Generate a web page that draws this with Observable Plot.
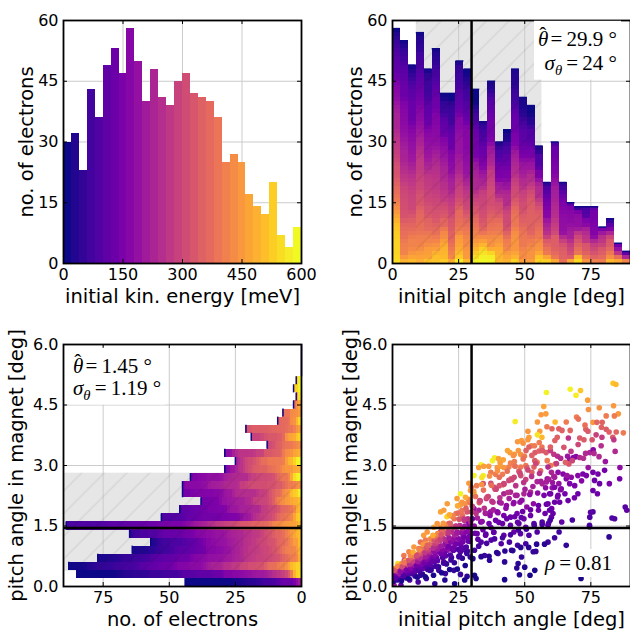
<!DOCTYPE html>
<html><head><meta charset="utf-8">
<script src="https://cdn.jsdelivr.net/npm/d3@7"></script>
<script src="https://cdn.jsdelivr.net/npm/@observablehq/plot@0.6"></script>
<style>
body{margin:0;background:#fff;}
#wrap{position:relative;width:630px;height:634px;overflow:hidden;background:#fff;}
#wrap svg{position:absolute;overflow:visible;}
</style></head><body><div id="wrap"></div>
<script>
// ---------- data ----------
const energyBinStart = [0,20,40,60,80,100,120,140,160,180,200,220,240,260,280,300,320,340,360,380,400,420,440,460,480,500,520,540,560,580];
const energyBinWidth = 20;
const energyCounts = [30,32,23,43,36,49,53,47,58,50,40,48,41,39,45,47,42,41,40,36,25,27,25,17,14,12,20,7,4,9];

const pitchBinStart = [0,3,6,9,12,15,18,21,24,27,30,33,36,39,42,45,48,51,54,57,60,63,66,69,72,75,78,81,84,87];
const pitchBinWidth = 3;
const pitchCounts = [58,55,49,57,48,53,42,42,50,48,43,35,45,30,33,48,41,39,29,20,30,20,15,14,14,14,9,11,5,3];

const magnetBinStart = [0,0.2,0.4,0.6,0.8,1.0,1.2,1.4,1.6,1.8,2.0,2.2,2.4,2.6,2.8,3.0,3.2,3.4,3.6,3.8,4.0,4.2,4.4,4.6,4.8,5.0,5.2,5.4,5.6,5.8];
const magnetBinWidth = 0.2;
const magnetCounts = [44,85,88,77,64,57,65,89,53,46,38,45,45,42,29,25,29,13,19,21,9,7,3,2,3,2,0,0,0,0];

const energyTicks = [0,150,300,450,600];
const countTicks = [0,15,30,45,60];
const pitchTicks = [0,25,50,75];
const electronTicks = [75,50,25,0];
const magnetTicks = [0,1.5,3.0,4.5,6.0];

const initPitchMean = 29.9, initPitchSigma = 24, initPitchBand = [9.0, 56.5];
const magnetPitchMean = 1.45, magnetPitchSigma = 1.19, magnetPitchBand = [0.38, 2.81];
const correlation = 0.81;

// scatter: [initial pitch angle (deg), pitch angle in magnet (deg), initial energy (meV)]
const scatterPoints = [
[83.4,5.04,520],[84.5,5.01,500],[67.2,4.89,580],[71.1,4.86,520],[69.4,4.74,570],[58.2,4.81,580],[73.8,4.62,460],[57.2,4.46,470],
[56.2,4.26,450],[58.0,4.28,460],[46.4,4.09,570],[54.8,4.08,450],[61.5,4.08,500],[65.7,4.08,400],[69.6,4.20,400],[70.3,4.15,380],
[74.1,4.39,440],[78.2,4.43,440],[83.6,4.48,450],[85.4,4.28,450],[75.8,4.07,450],[77.3,4.07,360],[79.3,4.07,350],[80.8,4.23,400],
[83.9,4.23,400],[51.2,3.85,450],[51.6,3.70,460],[51.2,3.64,450],[55.7,3.85,460],[56.5,3.70,500],[54.8,3.76,560],[58.4,3.96,400],
[60.3,3.91,360],[62.9,3.91,350],[64.1,3.87,350],[67.2,3.87,360],[73.1,3.90,350],[73.9,3.85,340],[77.0,3.76,290],[80.8,3.90,340],
[81.9,3.83,350],[84.6,3.83,360],[87.3,3.81,400],[83.3,3.70,340],[79.2,3.70,280],[72.4,3.64,340],[62.3,3.70,350],[61.4,3.62,350],
[66.5,3.68,260],[70.8,3.68,340],[75.5,3.64,330],[83.7,3.64,270],[47.3,3.59,450],[48.8,3.62,460],[49.4,3.55,440],[44.4,3.32,460],
[43.5,3.37,470],[52.5,3.49,420],[53.7,3.49,400],[55.5,3.57,400],[56.5,3.46,390],[51.6,3.46,350],[50.5,3.37,350],[53.9,3.32,340],
[55.4,3.36,350],[56.7,3.37,340],[58.1,3.32,340],[59.7,3.37,280],[61.0,3.28,270],[59.7,3.46,350],[62.4,3.23,250],[63.6,3.18,240],
[66.2,3.23,200],[67.0,3.14,190],[68.4,3.20,170],[69.4,3.22,170],[70.8,3.20,240],[72.2,3.18,250],[73.0,3.30,240],[74.6,3.32,230],
[75.9,3.39,170],[78.9,3.49,250],[78.1,3.22,240],[47.6,3.37,450],[46.1,3.28,460],[48.5,3.27,440],[49.9,3.23,400],[52.7,3.25,350],
[41.9,3.14,470],[40.7,3.07,460],[44.6,3.06,410],[46.1,3.10,400],[37.8,3.12,580],[38.6,3.19,570],[40.1,3.17,470],[33.5,3.02,580],
[30.8,2.75,580],[34.3,2.75,570],[33.8,2.70,560],[30.9,2.30,530],[32.6,2.95,460],[34.5,2.98,460],[36.4,2.98,450],[39.6,2.95,450],
[40.8,2.98,460],[42.1,2.95,450],[37.2,2.83,400],[39.0,2.78,400],[41.6,2.78,400],[44.0,2.96,410],[46.0,3.00,400],[48.5,2.96,400],
[50.4,3.00,400],[54.7,3.08,400],[58.5,3.12,400],[59.8,3.00,390],[61.6,3.04,400],[53.5,2.96,350],[56.0,2.87,350],[52.7,2.83,350],
[58.5,2.67,200],[61.0,2.73,230],[62.9,2.55,190],[60.4,2.45,190],[54.7,2.60,230],[56.6,2.55,230],[46.0,2.71,300],[48.5,2.75,310],
[50.4,2.65,290],[44.0,2.63,300],[42.1,2.55,300],[34.3,2.55,320],[37.2,2.56,310],[38.5,2.46,310],[40.4,2.50,320],[31.8,2.50,400],
[29.8,2.46,400],[42.1,2.30,230],[44.6,2.34,230],[46.5,2.26,230],[49.7,2.30,230],[52.2,2.34,230],[57.3,2.26,150],[59.8,2.30,150],
[62.4,2.22,140],[33.0,2.13,280],[35.5,2.18,280],[38.0,2.09,270],[40.5,2.09,200],[43.1,2.01,180],[45.7,2.05,200],[48.2,2.09,190],
[50.8,1.97,180],[53.3,2.05,180],[55.2,1.89,140],[57.7,1.81,130],[60.2,1.93,130],[30.8,1.93,200],[32.7,1.89,220],[35.2,1.81,200],
[37.1,1.85,200],[39.6,1.85,140],[42.1,1.76,140],[44.6,1.72,130],[47.1,1.81,140],[49.7,1.68,130],[52.2,1.76,130],[30.2,1.68,130],
[33.4,1.60,140],[36.5,1.56,130],[39.0,1.64,130],[41.6,1.56,120],[44.6,1.52,110],[47.8,1.56,110],[50.4,1.47,100],[53.5,1.56,100],
[56.6,1.60,90],[32.0,1.31,130],[35.2,1.27,120],[38.3,1.35,130],[42.1,1.27,110],[45.9,1.35,120],[48.4,1.31,100],[51.6,1.27,90],
[54.7,1.35,90],[33.5,1.10,90],[37.3,1.15,100],[41.1,1.06,90],[44.2,1.10,80],[47.3,1.02,70],[50.4,1.06,70],[31.0,0.90,70],
[34.8,0.77,60],[39.9,0.82,60],[45.0,0.90,60],[48.8,0.73,50],[53.2,0.86,50],[36.7,0.65,40],[42.4,0.61,40],[47.5,0.57,40],
[50.0,0.48,30],[31.0,0.28,20],[31.6,0.20,20],[42.4,0.17,20],[52.0,0.28,20],[53.8,0.40,20],
[25.7,2.30,580],[28.9,2.56,450],[29.5,2.38,450],[24.4,2.18,460],[26.3,2.09,450],[27.5,2.05,440],[20.7,2.05,460],[18.2,1.85,470],
[19.4,1.89,460],[22.1,1.76,400],[24.0,1.81,400],[26.5,1.76,380],[16.9,1.56,450],[15.6,1.47,470],[18.2,1.47,440],[21.3,1.56,350],
[23.2,1.47,340],[28.1,1.64,150],[28.7,1.52,150],[13.1,1.35,450],[11.8,1.27,460],[14.4,1.19,520],[12.5,1.15,400],[10.6,1.10,380],
[18.2,1.35,250],[20.7,1.31,230],[24.4,1.35,200],[26.9,1.31,180],[29.5,1.31,180],[16.9,1.19,250],[20.0,1.15,220],[23.2,1.19,200],
[26.3,1.10,180],[28.8,1.15,160],[8.1,0.98,450],[10.0,0.94,400],[6.2,0.86,420],[4.3,0.77,400],[13.1,0.94,260],[15.6,0.90,230],
[18.2,0.98,200],[20.7,0.90,180],[23.2,0.94,120],[25.7,0.86,100],[27.6,0.90,90],[2.0,0.57,550],[2.6,0.45,480],[2.0,0.32,500],
[4.5,0.65,300],[7.0,0.57,280],[9.5,0.61,250],[12.0,0.65,180],[15.1,0.69,150],[16.9,0.65,140],[19.4,0.61,110],[5.2,0.40,200],
[8.4,0.36,180],[11.6,0.45,130],[14.7,0.48,110],[17.5,0.40,80],[20.0,0.32,60],[23.2,0.40,60],[25.7,0.30,60],[28.2,0.25,40],
[3.3,0.20,150],[6.5,0.16,120],[9.7,0.11,80],[12.8,0.20,60],[16.0,0.07,40],[19.8,0.16,30],[23.5,0.07,20],[27.3,0.16,20],
[0.6,0.03,200],[3.2,0.03,120],[0.5,0.28,560],
[66.7,3.04,330],[65.4,3.08,350],[68.0,3.12,300],[58.8,2.96,240],[60.1,2.83,230],[61.3,2.71,220],[58.2,2.59,220],[62.6,2.83,180],
[64.5,2.79,170],[65.7,2.67,170],[67.6,2.71,180],[70.1,2.75,170],[72.0,2.79,150],[73.3,2.75,150],[75.8,2.83,140],[77.7,2.79,140],
[76.4,2.63,130],[78.3,2.55,130],[80.2,2.88,140],[85.9,2.67,140],[88.0,1.97,100],[88.6,1.89,110],[61.3,2.46,160],[63.8,2.42,150],
[67.0,2.55,150],[68.9,2.50,150],[70.1,2.30,130],[75.8,2.38,130],[59.4,2.30,140],[62.6,2.26,140],[65.2,2.30,140],[66.4,2.13,130],
[63.2,2.09,130],[61.3,2.09,130],[58.8,2.05,130],[59.4,1.89,120],[60.7,1.81,120],[60.1,1.72,110],[64.0,1.60,110],[74.6,1.72,90],
[75.8,1.85,90],[84.0,1.68,90],[58.8,1.52,90],[74.5,1.52,80],[58.8,1.10,60],[61.3,1.21,60],[65.7,1.02,50],[81.9,1.23,50],
[71.3,0.20,20],[48.0,0.29,30],[47.0,0.46,40],[54.2,0.87,50],[59.0,1.57,100],[74.5,1.48,70],[83.0,1.70,90],[74.9,1.84,100],
[60.5,2.58,200],[62.0,3.05,280],[63.5,2.40,170],[64.8,3.45,330],[66.0,2.75,200],[67.5,3.35,270],[68.8,2.20,140],[70.2,3.52,300],
[71.5,2.62,170],[72.8,4.00,380],[74.0,2.95,200],[76.2,3.30,240],[77.5,2.30,130],[79.0,3.95,350],[80.5,3.10,200],[82.0,2.55,150],
[84.2,3.35,240],[86.0,2.95,180],[63.0,1.35,70],[68.0,1.65,80],
// dense part of the cloud, 0–30 deg
[0.3,0.13,25],[1.8,0.16,50],[0.9,0.23,90],[2.5,0.24,120],[1.2,0.29,155],[2.1,0.30,185],[0.6,0.35,230],[2.8,0.36,270],
[1.5,0.42,310],[0.2,0.39,350],[2.3,0.47,390],[1.0,0.45,450],[2.6,0.53,540],[1.4,0.19,70],[0.5,0.26,140],[2.9,0.33,210],
[1.7,0.38,250],[0.8,0.41,330],[2.0,0.50,420],[1.1,0.21,105],
[3.4,0.14,25],[4.7,0.26,70],[5.5,0.29,105],[3.9,0.34,140],[4.4,0.35,170],[5.8,0.47,210],[3.2,0.40,250],[5.1,0.52,290],
[4.0,0.48,330],[5.6,0.58,370],[3.6,0.57,420],[4.9,0.63,480],[5.3,0.21,50],[4.2,0.28,90],[3.0,0.37,185],[5.9,0.34,120],
[4.6,0.44,230],[3.7,0.49,310],[5.2,0.40,155],[4.5,0.59,390],
[6.2,0.19,25],[8.5,0.26,50],[7.3,0.32,70],[6.7,0.33,90],[8.1,0.37,105],[7.7,0.43,120],[6.4,0.40,140],[8.8,0.51,155],
[7.0,0.46,170],[6.9,0.53,185],[8.3,0.54,210],[7.5,0.59,230],[6.5,0.55,250],[8.6,0.66,270],[7.9,0.62,290],[6.1,0.65,330],
[7.2,0.72,350],[8.4,0.75,390],[6.8,0.77,420],[7.8,0.85,480],[8.9,0.41,120],
[9.4,0.23,25],[11.3,0.31,50],[10.2,0.39,70],[9.8,0.40,90],[11.7,0.52,105],[10.6,0.48,120],[9.1,0.52,140],[11.0,0.55,155],
[10.0,0.61,170],[11.9,0.65,185],[9.6,0.62,210],[10.9,0.73,230],[10.4,0.70,250],[9.3,0.74,270],[11.5,0.80,290],[10.7,0.86,330],
[9.9,0.81,350],[11.2,0.95,390],[10.1,0.91,420],[11.6,1.04,450],[9.2,0.77,310],[10.5,0.28,45],
[12.4,0.24,25],[14.6,0.41,50],[13.3,0.42,70],[12.9,0.53,90],[14.2,0.54,105],[13.7,0.61,120],[12.2,0.59,140],[14.8,0.72,155],
[13.0,0.67,170],[14.0,0.78,185],[12.6,0.74,210],[13.9,0.85,230],[14.5,0.88,250],[12.3,0.84,270],[13.5,0.91,290],[14.9,1.03,310],
[12.8,0.96,330],[13.8,1.04,370],[14.4,1.17,420],[12.7,1.06,450],[13.2,1.02,350],[14.1,0.40,60],
[15.5,0.28,25],[17.4,0.49,50],[16.3,0.50,70],[15.9,0.62,90],[17.0,0.64,105],[16.6,0.72,120],[15.2,0.69,140],[17.7,0.86,155],
[16.1,0.79,170],[15.7,0.87,185],[17.2,0.93,210],[16.8,1.00,230],[15.4,0.95,250],[17.9,1.13,270],[16.4,1.06,290],[15.8,1.14,330],
[17.5,1.21,350],[16.0,1.23,390],[17.1,1.31,420],[15.3,1.27,480],[16.9,1.12,310],[15.1,0.62,120],
[18.6,0.34,25],[20.4,0.56,50],[19.3,0.58,70],[18.9,0.72,90],[20.1,0.76,105],[19.6,0.83,120],[18.3,0.81,140],[20.7,0.98,155],
[19.0,0.91,170],[19.9,1.05,185],[18.5,1.00,210],[20.5,1.13,230],[19.4,1.18,250],[18.1,1.17,290],[20.9,1.37,310],[19.7,1.33,350],
[18.8,1.40,370],[20.2,1.52,420],[19.2,1.57,450],[20.6,1.73,540],[18.4,1.28,330],
[21.6,0.42,25],[23.4,0.59,50],[22.3,0.72,70],[21.9,0.78,90],[23.1,0.90,105],[22.7,0.91,120],[21.3,0.99,140],[23.7,1.05,155],
[22.0,1.10,170],[22.9,1.15,185],[21.4,1.21,210],[23.5,1.28,230],[22.5,1.35,250],[21.1,1.33,270],[23.9,1.50,290],[22.2,1.48,330],
[21.8,1.57,350],[23.3,1.68,390],[22.6,1.74,420],[21.5,1.78,480],[23.0,0.96,140],[22.1,0.66,60],
[24.5,0.43,25],[26.4,0.70,50],[25.3,0.76,70],[24.9,0.92,90],[26.1,0.97,105],[25.6,1.06,120],[24.2,1.06,140],[26.7,1.22,155],
[25.0,1.18,170],[25.9,1.33,185],[24.4,1.32,210],[26.5,1.44,230],[25.5,1.51,250],[24.1,1.49,270],[26.9,1.68,290],[25.2,1.67,330],
[24.8,1.82,370],[26.2,1.88,390],[25.7,2.02,450],[24.6,2.00,480],[26.6,1.11,140],[25.1,0.74,60],
[27.5,0.52,25],[29.4,0.73,50],[28.3,0.88,70],[27.9,0.98,90],[29.1,1.12,105],[28.6,1.13,120],[27.2,1.22,140],[29.7,1.30,155],
[28.0,1.35,170],[28.9,1.43,185],[27.4,1.50,210],[29.5,1.60,230],[28.5,1.68,250],[27.1,1.64,270],[29.9,1.85,290],[28.2,1.85,330],
[27.8,1.94,350],[29.3,2.08,390],[28.7,2.16,420],[27.6,2.21,480],[29.0,1.23,140],[28.1,0.82,60],
// 30–60 deg
[30.4,0.69,35],[32.6,1.00,80],[31.2,1.32,130],[30.9,1.50,180],[32.1,1.70,220],[31.6,1.81,260],[30.2,1.99,300],[32.8,2.08,340],
[31.4,2.23,380],[30.7,2.36,440],[32.3,1.17,110],
[33.5,0.74,35],[35.6,1.07,80],[34.2,1.41,130],[33.9,1.61,180],[35.1,1.82,220],[34.7,1.94,260],[33.2,2.12,300],[35.8,2.22,340],
[34.4,2.39,380],[33.7,2.53,440],[35.3,1.30,110],
[36.5,0.75,35],[38.6,1.18,80],[37.2,1.46,130],[36.9,1.76,180],[38.1,1.90,220],[37.6,2.11,260],[36.2,2.23,300],[38.8,2.41,340],
[37.4,2.51,380],[36.7,2.74,440],[38.3,1.34,110],
[39.4,0.84,35],[41.6,1.21,80],[40.2,1.59,130],[39.9,1.83,180],[41.1,2.07,220],[40.6,2.20,260],[39.2,2.41,300],[41.8,2.52,340],
[40.4,2.71,380],[39.7,2.87,440],
[42.5,0.88,35],[44.6,1.28,80],[43.2,1.68,130],[42.9,1.94,180],[44.1,2.18,220],[43.6,2.33,260],[42.2,2.54,300],[44.8,2.67,340],
[43.4,2.86,380],
[45.5,0.89,35],[47.6,1.40,80],[46.2,1.73,130],[45.9,2.08,180],[47.1,2.26,220],[46.6,2.50,260],[45.2,2.65,300],[47.8,2.86,340],
[46.4,2.98,380],[45.7,3.25,440],[47.3,1.59,110],
[48.5,0.97,35],[50.6,1.42,80],[49.2,1.86,130],[48.9,2.14,180],[50.1,2.41,220],[49.6,2.58,260],[48.2,2.81,300],[50.8,2.95,340],
[49.4,3.16,380],[48.7,1.71,110],
[51.5,0.97,35],[53.6,1.52,80],[52.2,1.90,130],[51.9,2.28,180],[53.1,2.48,220],[52.6,2.73,260],[51.2,2.89,300],[53.8,3.12,340],
[54.5,1.05,35],[56.6,1.54,80],[55.2,2.01,130],[54.9,2.32,180],[56.1,2.61,220],[55.6,2.80,260],[54.2,3.05,300],
[57.5,1.05,35],[59.6,1.64,80],[58.2,2.04,130],[57.9,2.45,180],[59.1,2.66,220]
];

// ---------- derived tables ----------
const scatter = scatterPoints.map(([x, y, e]) => ({x, y, e}));
const energyRows = energyBinStart.map((s, i) => ({x1: s, x2: s + energyBinWidth, count: energyCounts[i], e: s + energyBinWidth / 2}));
const pitchRows = pitchBinStart.map((s, i) => ({x1: s, x2: s + pitchBinWidth, count: pitchCounts[i]}));
const magnetRows = magnetBinStart.map((s, i) => ({y1: s, y2: s + magnetBinWidth, count: magnetCounts[i]}));

// calibrate the colour-estimated energies of the scatter points against the energy histogram (rank → energy quantile)
const totalElectrons = d3.sum(energyCounts);
function energyAtQuantile(q) {
  let target = q * totalElectrons, cum = 0;
  for (let i = 0; i < energyCounts.length; i++) {
    if (cum + energyCounts[i] >= target) return energyBinStart[i] + energyBinWidth * (target - cum) / energyCounts[i];
    cum += energyCounts[i];
  }
  return energyBinStart[energyBinStart.length - 1] + energyBinWidth;
}
d3.sort(scatter, d => d.e).forEach((p, i, arr) => { p.ec = energyAtQuantile((i + 0.5) / arr.length); });

// calibrated energies of the electrons that fall in a bin (widening the window when few are known), high → low
function binEnergies(key, lo, hi, minN) {
  const w = hi - lo; let pad = 0, sel = [];
  while (true) {
    sel = scatter.filter(p => p[key] >= lo - pad && p[key] < hi + pad).map(p => p.ec);
    if (sel.length >= minN || pad > 40 * w) break;
    pad += w / 2;
  }
  return sel.sort(d3.descending);
}
const pitchCells = [];
pitchRows.forEach(r => {
  const es = binEnergies("x", r.x1, r.x2, 6);
  for (let k = 0; k < r.count; k++) pitchCells.push({x1: r.x1, x2: r.x2, y1: k, y2: k + 1, e: d3.quantileSorted(es, (k + 0.5) / r.count)});
});
const magnetCells = [];
magnetRows.forEach(r => {
  const es = binEnergies("y", r.y1, r.y2, 6);
  for (let k = 0; k < r.count; k++) magnetCells.push({c1: k, c2: k + 1, y1: r.y1, y2: r.y2, e: d3.quantileSorted(es, (k + 0.5) / r.count)});
});

// ---------- styling ----------
const FONT = "DejaVu Sans";
const SERIF = "Liberation Serif";
const W = 315, H = 317;
const LOWEST = d3.interpolatePlasma(0);
const GRID = "#cbcbcb";
const BAND = "#e6e6e6";
const colorScale = {type: "linear", scheme: "plasma", domain: [10, 590], clamp: true};
const fmt1 = d3.format(".1f");

function buildPanel(cfg) {
  const pw = W - cfg.ml - cfg.mr, ph = H - cfg.mt - cfg.mb;
  const svg = Plot.plot({
    width: W, height: H,
    marginTop: cfg.mt, marginRight: cfg.mr, marginBottom: cfg.mb, marginLeft: cfg.ml,
    style: {fontFamily: FONT, fontSize: "16px", background: "transparent", color: "black", overflow: "visible"},
    x: {domain: cfg.xDomain},
    y: {domain: cfg.yDomain},
    color: colorScale,
    marks: [
      ...(cfg.under || []),
      Plot.gridX(cfg.xTicks, {stroke: GRID, strokeOpacity: 1, strokeWidth: 1}),
      Plot.gridY(cfg.yTicks, {stroke: GRID, strokeOpacity: 1, strokeWidth: 1}),
      ...cfg.data,
      Plot.ruleX(cfg.xTicks, {stroke: "black", strokeWidth: 1, insetTop: ph - 4}),
      Plot.ruleX(cfg.xTicks, {stroke: "black", strokeWidth: 1, insetBottom: ph - 4}),
      Plot.ruleY(cfg.yTicks, {stroke: "black", strokeWidth: 1, insetRight: pw - 4}),
      Plot.ruleY(cfg.yTicks, {stroke: "black", strokeWidth: 1, insetLeft: pw - 4}),
      Plot.frame({stroke: "black", strokeWidth: 1.8}),
      Plot.axisX(cfg.xTicks, {tickSize: 0, tickPadding: 5, tickFormat: cfg.xFmt, label: null, fontSize: 16}),
      Plot.axisY(cfg.yTicks, {tickSize: 0, tickPadding: 5, tickFormat: cfg.yFmt, label: null, fontSize: 16}),
      Plot.text([cfg.xLabel], {text: d => d, frameAnchor: "bottom", dy: cfg.xLabelDy, fontSize: 19.5, textAnchor: "middle", lineAnchor: "middle"}),
      Plot.text([cfg.yLabel], {text: d => d, frameAnchor: "left", dx: cfg.yLabelDx, rotate: -90, fontSize: 19.5, textAnchor: "middle", lineAnchor: "middle"})
    ]
  });
  svg.style.left = cfg.left + "px";
  svg.style.top = cfg.top + "px";
  document.getElementById("wrap").appendChild(svg);
  return svg;
}

function addHatch(svg, id) {
  const defs = d3.select(svg).insert("defs", ":first-child");
  const p = defs.append("pattern").attr("id", id).attr("patternUnits", "userSpaceOnUse")
    .attr("width", 16).attr("height", 16).attr("patternTransform", "rotate(45)");
  p.append("line").attr("x1", 8).attr("y1", 0).attr("x2", 8).attr("y2", 16)
    .attr("stroke", "#000").attr("stroke-opacity", 0.1).attr("stroke-width", 1);
}

function annotate(svg, x, y, anchor, lines, lineGap, size) {
  const g = d3.select(svg).append("g");
  lines.forEach((parts, li) => {
    const t = g.append("text").attr("x", x).attr("y", y + li * lineGap).attr("text-anchor", anchor)
      .attr("font-family", SERIF).attr("font-size", size).attr("fill", "black");
    parts.forEach(([s, kind]) => {
      const ts = t.append("tspan").text(s);
      if (kind === "i") ts.attr("font-style", "italic");
      if (kind === "hat") ts.attr("dx", -size * 0.43).attr("dy", -size * 0.2);
      if (kind === "unhat") ts.attr("dy", size * 0.2);
      if (kind === "sub") ts.attr("font-style", "italic").attr("font-size", size * 0.7).attr("dy", size * 0.22);
      if (kind === "back") ts.attr("dy", -size * 0.22);
    });
  });
  const b = g.node().getBBox();
  g.insert("rect", ":first-child").attr("x", b.x - 4).attr("y", b.y - 2).attr("width", b.width + 8).attr("height", b.height + 4)
    .attr("fill", "white");
}

// ---------- top-left: energy histogram ----------
buildPanel({
  left: 0, top: 0, ml: 63, mr: 14, mt: 20, mb: 54,
  xDomain: [0, 600], yDomain: [0, 60], xTicks: energyTicks, yTicks: countTicks,
  xLabel: "initial kin. energy [meV]", yLabel: "no. of electrons", xLabelDy: 33, yLabelDx: -37,
  data: [Plot.rectY(energyRows, {x1: "x1", x2: "x2", y: "count", fill: "e", inset: 0, shapeRendering: "crispEdges"})]
});

// ---------- top-right: initial pitch angle, stacked by energy ----------
const tr = buildPanel({
  left: 315, top: 0, ml: 77, mr: 0, mt: 20, mb: 54,
  xDomain: [0, 90], yDomain: [0, 60], xTicks: pitchTicks, yTicks: countTicks,
  xLabel: "initial pitch angle [deg]", yLabel: "no. of electrons", xLabelDy: 33, yLabelDx: -37,
  under: [Plot.rect([initPitchBand], {x1: d => d[0], x2: d => d[1], fill: BAND})],
  data: [
    Plot.rect(pitchCells, {x1: "x1", x2: "x2", y1: "y1", y2: "y2", fill: "e", inset: 0, shapeRendering: "crispEdges"}),
    Plot.ruleY(pitchRows, {x1: "x1", x2: "x2", y: "count", stroke: LOWEST, strokeWidth: 1.5}),
    Plot.rect([initPitchBand], {x1: d => d[0], x2: d => d[1], fill: "url(#hatchTR)"}),
    Plot.ruleX([initPitchMean], {stroke: "black", strokeWidth: 2.5})
  ]
});
addHatch(tr, "hatchTR");
annotate(tr, 302, 46, "end", [
  [["θ", "i"], ["ˆ", "hat"], ["\u2009=\u2009" + initPitchMean + " °", "unhat"]],
  [["σ", "i"], ["θ", "sub"], ["\u2009=\u2009" + initPitchSigma + " °", "back"]]
], 24, 21);

// ---------- bottom-left: pitch angle in magnet, horizontal stacked ----------
const bl = buildPanel({
  left: 0, top: 317, ml: 63, mr: 14, mt: 27, mb: 48,
  xDomain: [90, 0], yDomain: [0, 6], xTicks: electronTicks, yTicks: magnetTicks, yFmt: fmt1,
  xLabel: "no. of electrons", yLabel: "pitch angle in magnet [deg]", xLabelDy: 33, yLabelDx: -47,
  under: [Plot.rect([magnetPitchBand], {y1: d => d[0], y2: d => d[1], fill: BAND})],
  data: [
    Plot.rect(magnetCells, {x1: "c1", x2: "c2", y1: "y1", y2: "y2", fill: "e", inset: 0, shapeRendering: "crispEdges"}),
    Plot.ruleX(magnetRows, {x: "count", y1: "y1", y2: "y2", stroke: LOWEST, strokeWidth: 1.5}),
    Plot.rect([magnetPitchBand], {y1: d => d[0], y2: d => d[1], fill: "url(#hatchBL)"}),
    Plot.ruleY([magnetPitchMean], {stroke: "black", strokeWidth: 2.5})
  ]
});
addHatch(bl, "hatchBL");
annotate(bl, 73, 56, "start", [
  [["θ", "i"], ["ˆ", "hat"], ["\u2009=\u2009" + magnetPitchMean + " °", "unhat"]],
  [["σ", "i"], ["θ", "sub"], ["\u2009=\u2009" + magnetPitchSigma + " °", "back"]]
], 22, 21);

// ---------- bottom-right: scatter ----------
const br = buildPanel({
  left: 315, top: 317, ml: 77, mr: 0, mt: 27, mb: 48,
  xDomain: [0, 90], yDomain: [0, 6], xTicks: pitchTicks, yTicks: magnetTicks, yFmt: fmt1,
  xLabel: "initial pitch angle [deg]", yLabel: "pitch angle in magnet [deg]", xLabelDy: 33, yLabelDx: -42,
  data: [
    Plot.dot(scatter, {x: "x", y: "y", fill: "e", r: 2.8, stroke: "none", clip: true}),
    Plot.ruleX([initPitchMean], {stroke: "black", strokeWidth: 2.5}),
    Plot.ruleY([magnetPitchMean], {stroke: "black", strokeWidth: 2.5})
  ]
});
annotate(br, 297, 253, "end", [[["ρ", "i"], ["\u2009=\u2009" + correlation, ""]]], 22, 21);
</script></body></html>
